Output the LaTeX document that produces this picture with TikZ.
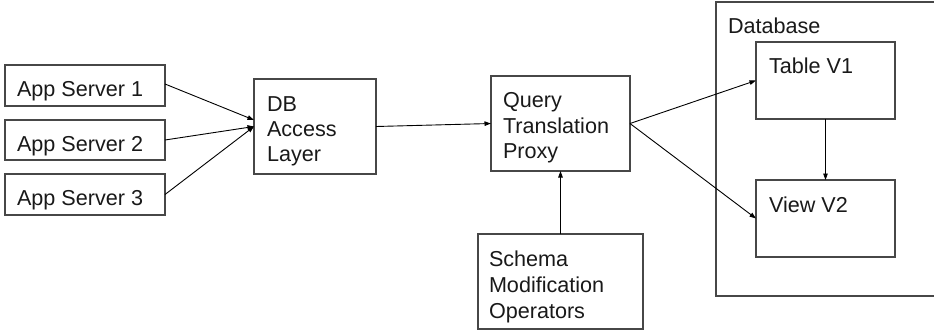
\documentclass[tikz,border=0pt]{standalone}
\usepackage{fontspec}
\setmainfont{Liberation Sans}
\usetikzlibrary{arrows.meta}
\begin{document}
\begin{tikzpicture}[x=1pt,y=-1pt,
  boxn/.style={draw=black!72,line width=1.2pt,inner sep=0pt,outer sep=0pt},
  lbl/.style={anchor=base west,inner sep=0pt,outer sep=0pt,font=\fontsize{21.6pt}{25pt}\selectfont,text=black!90},
  conn/.style={draw=black,line width=0.9pt,-{Triangle[length=6.5pt,width=4.5pt]}}]
\useasboundingbox (0,0) rectangle (934,330);
% database container
\node[boxn,minimum width=230pt,minimum height=294pt,anchor=north west] (dbase) at (716,2) {};
\node[lbl] (dbasel) at (728,33) {Database};
% boxes
\node[boxn,minimum width=160pt,minimum height=41pt,anchor=north west] (as1) at (5,65) {};
\node[boxn,minimum width=160pt,minimum height=40pt,anchor=north west] (as2) at (5,120) {};
\node[boxn,minimum width=160pt,minimum height=41pt,anchor=north west] (as3) at (5,174) {};
\node[boxn,minimum width=122pt,minimum height=95pt,anchor=north west] (db) at (254,79) {};
\node[boxn,minimum width=139pt,minimum height=95pt,anchor=north west] (qp) at (491,76) {};
\node[boxn,minimum width=165pt,minimum height=95pt,anchor=north west] (smo) at (478,234) {};
\node[boxn,minimum width=139pt,minimum height=77pt,anchor=north west] (tv1) at (756,42) {};
\node[boxn,minimum width=139pt,minimum height=77pt,anchor=north west] (vv2) at (756,180) {};
% labels
\node[lbl] (as1l) at (17,96.5) {App Server 1};
\node[lbl] (as2l) at (17,151.5) {App Server 2};
\node[lbl] (as3l) at (17,205.5) {App Server 3};
\node[lbl] (dbl1) at (267,111) {DB};
\node[lbl] (dbl2) at (267,136) {Access};
\node[lbl] (dbl3) at (267,161) {Layer};
\node[lbl] (qpl1) at (503,107.5) {Query};
\node[lbl] (qpl2) at (503,133) {Translation};
\node[lbl] (qpl3) at (503,158.5) {Proxy};
\node[lbl] (smol1) at (489,266) {Schema};
\node[lbl] (smol2) at (489,292) {Modification};
\node[lbl] (smol3) at (489,318) {Operators};
\node[lbl] (tv1l) at (769,73) {Table V1};
\node[lbl] (vv2l) at (769,212) {View V2};
% connectors
\draw[conn] ([yshift=1.5pt]as1.east) -- ([yshift=6.5pt]db.west);
\draw[conn] (as2.east) -- (db.west);
\draw[conn] (as3.east) -- (db.west);
\draw[conn] (db.east) -- (qp.west);
\draw[conn] (qp.east) -- (tv1.west);
\draw[conn] (qp.east) -- (vv2.west);
\draw[conn] (smo.north) -- (qp.south);
\draw[conn] (tv1.south) -- (vv2.north);
\end{tikzpicture}
\end{document}
